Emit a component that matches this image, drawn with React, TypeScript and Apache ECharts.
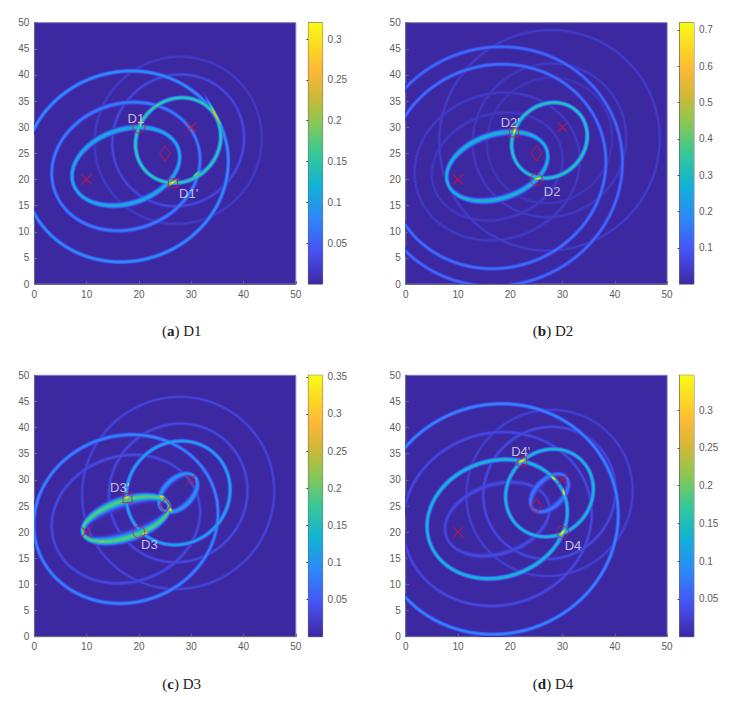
import React, { useEffect, useRef } from "react";
import * as echarts from "echarts";

// Fixed sites
const sourceA = [10, 20];
const sourceB = [30, 30];
const receiver = [25, 25];
const sourceSites = [sourceA, sourceB];

// Rings: [source index, path length, peak value]
const ringsD1 = [
  [1, 32.4, 0.024], [1, 25.7, 0.036], [0, 28.8, 0.08], [0, 39.5, 0.095], [0, 21.2, 0.125], [1, 17.07, 0.165],
];
const ringsD2 = [
  [1, 42.5, 0.055], [1, 29.8, 0.05], [1, 24.5, 0.04], [0, 32, 0.05], [0, 25.5, 0.045], [0, 41.9, 0.16], [0, 48.2, 0.15], [0, 20, 0.3], [1, 15.3, 0.35],
];
const ringsD3 = [
  [1, 37.1, 0.035], [1, 27, 0.04], [0, 28.8, 0.04], [0, 35.6, 0.095], [1, 8.9, 0.11], [1, 20.5, 0.125], [0, 17.3, 0.2],
];
const ringsD4 = [
  [1, 32.2, 0.03], [1, 25.8, 0.04], [0, 20.6, 0.04], [0, 36.5, 0.04], [1, 8.8, 0.08], [0, 46.6, 0.095], [0, 27.3, 0.15], [1, 17.5, 0.15],
];

// Bright spots: [x, y, direction deg, half length, half width, peak]
const spotsD1 = [
  [20.3, 30.5, 80, 0.7, 0.2, 0.25], [26.4, 19.4, 30, 0.9, 0.22, 0.32], [34.6, 32.4, -62, 2.6, 0.22, 0.27], [31, 21, 42, 1, 0.22, 0.22], [23.5, 34.2, 35, 0.8, 0.22, 0.21],
];
const spotsD2 = [
  [20.8, 29.2, 70, 0.8, 0.25, 0.72], [25.3, 20.2, 8, 0.8, 0.2, 0.68],
];
const spotsD3 = [
  [17.7, 26.6, 15, 0.7, 0.25, 0.33], [21.1, 19.8, 20, 0.7, 0.25, 0.33], [24.3, 26.8, -20, 0.6, 0.25, 0.33], [26, 24.3, -50, 0.6, 0.25, 0.33], [13, 18.2, 10, 1, 0.2, 0.27],
];
const spotsD4 = [
  [22.2, 33.6, 25, 0.9, 0.25, 0.345], [30, 19.9, 50, 1, 0.25, 0.345], [28.3, 30.3, -40, 0.7, 0.2, 0.33], [30.2, 27.6, -75, 0.8, 0.2, 0.33],
];

// Labelled points
const circlesAt = [[20, 30], [25, 20], [20, 20], [30, 20]];
const squaresAt = [[26.5, 19.3], [20.7, 29], [17.8, 26.5], [22.3, 33.5]];
const labelsD = [
  [["D1", 19.4, 31.7], ["D1'", 29.5, 17.3]],
  [["D2'", 20, 31], ["D2", 28, 17.8]],
  [["D3'", 16.3, 28.6], ["D3", 22, 17.7]],
  [["D4'", 22, 35.5], ["D4", 32, 17.5]],
];

const barMax = [0.32, 0.72, 0.352, 0.346];
const barStep = [0.05, 0.1, 0.05, 0.05];
const captionLetters = ["a", "b", "c", "d"];
const captionNames = ["D1", "D2", "D3", "D4"];
const ringSets = [ringsD1, ringsD2, ringsD3, ringsD4];
const spotSets = [spotsD1, spotsD2, spotsD3, spotsD4];

// Colour map stops
const mapStops: [number, number[]][] = [
  [0, [60, 40, 160]], [0.125, [71, 81, 244]], [0.25, [45, 135, 247]], [0.375, [18, 177, 214]],
  [0.5, [55, 200, 151]], [0.625, [143, 199, 79]], [0.72, [208, 184, 56]], [0.82, [253, 184, 56]],
  [0.9, [251, 213, 37]], [1, [249, 251, 20]],
];

function mapColor(t: number) {
  for (let i = 1; i < mapStops.length; i++) {
    if (t <= mapStops[i][0]) {
      const [t0, c0] = mapStops[i - 1];
      const [t1, c1] = mapStops[i];
      const f = (t - t0) / (t1 - t0);
      return `rgb(${c0.map((c, k) => Math.round(c + (c1[k] - c) * f)).join(",")})`;
    }
  }
  return "rgb(249,251,20)";
}

const LEVELS = 48;
const RING_SPREAD = 0.42;
const plotLeft = [34.4, 405.7, 34.4, 405.7];
const plotTop = [22.7, 22.7, 375.3, 375.3];
const plotSize = 261.4;
const barGap = 274;
const barWidth = 14.2;

function ellipsePoints(cx: number, cy: number, a: number, b: number, ang: number, rev: boolean) {
  const pts: number[][] = [];
  const n = 96;
  const ca = Math.cos(ang), sa = Math.sin(ang);
  for (let i = 0; i <= n; i++) {
    const t = ((rev ? n - i : i) / n) * Math.PI * 2;
    const u = a * Math.cos(t), v = b * Math.sin(t);
    pts.push([cx + u * ca - v * sa, cy + u * sa + v * ca]);
  }
  return pts;
}

type Band = { level: number; outline: number[][]; color: string };

function buildBands(panel: number): Band[] {
  const top = barMax[panel];
  const out: Band[] = [];
  for (let k = 0; k < LEVELS; k++) {
    const t = (k + 0.6) / LEVELS;
    const v = t * top;
    const color = mapColor(t);
    for (const [src, s0, peak] of ringSets[panel]) {
      if (peak <= v) continue;
      const delta = Math.max(RING_SPREAD * Math.sqrt(2 * Math.log(peak / v)), 0.06);
      const f = sourceSites[src];
      const cx = (f[0] + receiver[0]) / 2, cy = (f[1] + receiver[1]) / 2;
      const c = Math.hypot(f[0] - receiver[0], f[1] - receiver[1]) / 2;
      const ang = Math.atan2(f[1] - receiver[1], f[0] - receiver[0]);
      const aOut = (s0 + delta) / 2;
      const aIn = (s0 - delta) / 2;
      let outline = ellipsePoints(cx, cy, aOut, Math.sqrt(aOut * aOut - c * c), ang, false);
      if (aIn > c + 0.001) {
        outline = outline.concat(ellipsePoints(cx, cy, aIn, Math.sqrt(aIn * aIn - c * c), ang, true));
      }
      out.push({ level: k, outline, color });
    }
    for (const [x, y, deg, hl, hw, peak] of spotSets[panel]) {
      if (peak <= v) continue;
      const g = Math.sqrt(Math.log(peak / v));
      out.push({ level: k, outline: ellipsePoints(x, y, hl * g, hw * g, (deg * Math.PI) / 180, false), color });
    }
  }
  return out;
}

const markerRed = "#cf1538";
const fontAxis = "'Liberation Sans', Arial, sans-serif";

function buildOption() {
  const grid: any[] = [], xAxis: any[] = [], yAxis: any[] = [], series: any[] = [], title: any[] = [];
  const axisStyle = { lineStyle: { color: "#6b6b78", width: 1 } };
  for (let p = 0; p < 4; p++) {
    const g = p * 2, b = p * 2 + 1;
    grid.push({
      left: plotLeft[p], top: plotTop[p], width: plotSize, height: plotSize, show: true,
      backgroundColor: mapColor(0), borderColor: "#7d7dc0", borderWidth: 1,
    });
    grid.push({
      left: plotLeft[p] + barGap, top: plotTop[p], width: barWidth, height: plotSize, show: true,
      borderColor: "#666", borderWidth: 1,
    });
    const tickStyle = {
      axisLine: { show: true, ...axisStyle }, axisTick: { show: true, inside: true, length: 3, ...axisStyle },
      splitLine: { show: false },
      axisLabel: { color: "#5c5c5c", fontSize: 10, fontFamily: fontAxis, margin: 5 },
    };
    xAxis.push({ gridIndex: g, type: "value", min: 0, max: 50, interval: 10, ...tickStyle });
    yAxis.push({ gridIndex: g, type: "value", min: 0, max: 50, interval: 5, ...tickStyle });
    xAxis.push({ gridIndex: b, type: "value", min: 0, max: 1, show: false });
    yAxis.push({
      gridIndex: b, type: "value", position: "right", min: 0, max: barMax[p], interval: barStep[p],
      axisLine: { show: true, lineStyle: { color: "#666" } },
      axisTick: { show: true, inside: true, length: 2, lineStyle: { color: "#444" } },
      splitLine: { show: false },
      axisLabel: {
        color: "#5c5c5c", fontSize: 10, fontFamily: fontAxis, margin: 5,
        showMinLabel: false, showMaxLabel: false,
        formatter: (v: number) => (v === 0 || Math.abs(v / barStep[p] - Math.round(v / barStep[p])) > 1e-6 ? "" : String(+v.toFixed(2))),
      },
    });

    const bands = buildBands(p);
    series.push({
      type: "custom", coordinateSystem: "cartesian2d", xAxisIndex: g, yAxisIndex: g, clip: true, silent: true,
      data: bands.map((d) => [d.outline[0][0], d.outline[0][1]]),
      renderItem: (params: any, api: any) => {
        const d = bands[params.dataIndex];
        return {
          type: "polygon", silent: true,
          shape: { points: d.outline.map((q) => api.coord(q)) },
          style: { fill: d.color, stroke: "none" },
        };
      },
      z: 2,
    });

    const barStopsList = mapStops.map(([t, c]) => ({ offset: 1 - t, color: `rgb(${c.join(",")})` })).reverse();
    series.push({
      type: "custom", coordinateSystem: "cartesian2d", xAxisIndex: b, yAxisIndex: b, silent: true,
      data: [[0, barMax[p]]],
      renderItem: (_: any, api: any) => {
        const a = api.coord([0, barMax[p]]), c = api.coord([1, 0]);
        return {
          type: "rect", shape: { x: a[0], y: a[1], width: c[0] - a[0], height: c[1] - a[1] },
          style: { fill: new echarts.graphic.LinearGradient(0, 0, 0, 1, barStopsList) },
        };
      },
    });

    const scatterBase = { type: "scatter", xAxisIndex: g, yAxisIndex: g, silent: true, z: 5 };
    series.push({
      ...scatterBase, symbol: "path://M0 0L10 10M10 0L0 10", symbolSize: 10,
      data: [sourceA, sourceB], itemStyle: { color: "none", borderColor: markerRed, borderWidth: 1.2 },
    });
    series.push({
      ...scatterBase, symbol: "diamond", symbolSize: [11, 15],
      data: [receiver], itemStyle: { color: "none", borderColor: markerRed, borderWidth: 1 },
    });
    series.push({
      ...scatterBase, symbol: "circle", symbolSize: 12,
      data: [circlesAt[p]], itemStyle: { color: "none", borderColor: "#d8182c", borderWidth: 1 },
    });
    series.push({
      ...scatterBase, symbol: "rect", symbolSize: 9,
      data: [squaresAt[p]], itemStyle: { color: "none", borderColor: "#d8182c", borderWidth: 1 },
    });
    series.push({
      ...scatterBase, symbol: "circle", symbolSize: 1, z: 6,
      itemStyle: { color: "none" },
      data: labelsD[p].map(([name, x, y]) => ({ name, value: [x, y] })),
      label: {
        show: true, position: "inside", formatter: "{b}", color: "#e4e4f2", fontSize: 13, fontFamily: fontAxis,
      },
    });

    title.push({
      text: `{n|(}{b|${captionLetters[p]}}{n|) ${captionNames[p]}}`,
      left: plotLeft[p] + 147.3, top: p < 2 ? 323 : 676, textAlign: "center",
      padding: 0,
      textStyle: {
        fontWeight: "normal",
        rich: {
          n: { fontFamily: "'Liberation Serif', serif", fontSize: 15, fontWeight: "normal", color: "#222" },
          b: { fontFamily: "'Liberation Serif', serif", fontSize: 15, fontWeight: "bold", color: "#222" },
        },
      },
    });
  }
  return { animation: false, backgroundColor: "#fff", title, grid, xAxis, yAxis, series };
}

export default function App() {
  const ref = useRef<HTMLDivElement>(null);
  useEffect(() => {
    const chart = echarts.init(ref.current!, undefined, { renderer: "svg" });
    chart.setOption(buildOption() as any);
    return () => chart.dispose();
  }, []);
  return <div ref={ref} style={{ position: "absolute", left: 0, top: 0, width: 730, height: 702 }} />;
}
